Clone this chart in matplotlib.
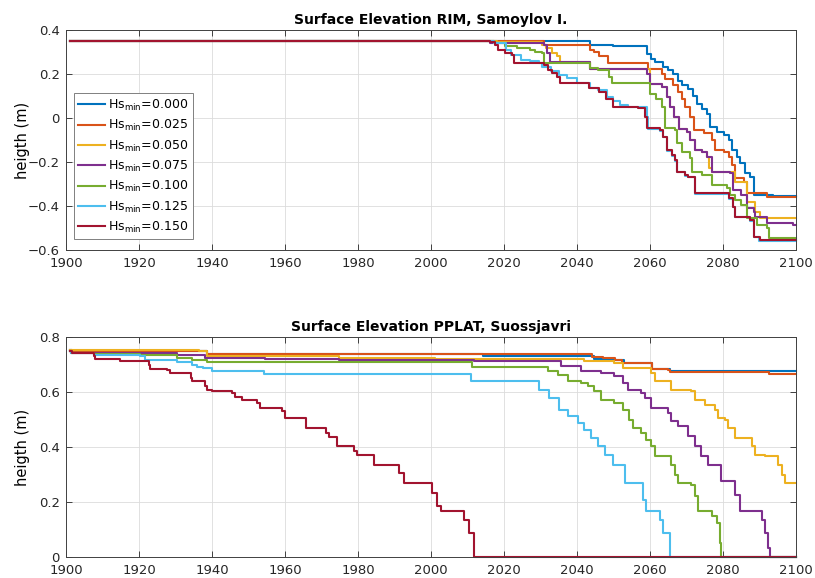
import matplotlib
matplotlib.use('Agg')
import matplotlib.pyplot as plt
from matplotlib.ticker import FuncFormatter

# ---- data (breakpoints of stepwise series) ----
hs_labels = ['0.000', '0.025', '0.050', '0.075', '0.100', '0.125', '0.150']
colors = ['#0072BD', '#D95319', '#EDB120', '#7E2F8E', '#77AC30', '#4DBEEE', '#A2142F']

# RIM, Samoylov I.
rim_yr_000 = [1901, 2043.4, 2049.8, 2059.0, 2060.3, 2061.2, 2063.5, 2064.9, 2066.3, 2067.7, 2068.6,
              2070.4, 2071.8, 2072.7, 2074.1, 2075.5, 2076.4, 2078.2, 2080.1, 2081.5, 2082.4, 2083.7,
              2084.7, 2086.0, 2087.4, 2088.3, 2093.5]
rim_h_000 = [0.35, 0.332, 0.326, 0.291, 0.269, 0.253, 0.231, 0.216, 0.201, 0.170, 0.148,
             0.133, 0.102, 0.065, 0.042, 0.019, -0.039, -0.062, -0.077, -0.100, -0.145, -0.176,
             -0.206, -0.252, -0.267, -0.350, -0.356]
rim_yr_025 = [1901, 2031.0, 2043.4, 2044.7, 2046.1, 2048.4, 2059.4, 2063.1, 2064.0, 2066.3, 2067.7,
              2068.6, 2069.5, 2071.0, 2071.9, 2074.6, 2076.9, 2077.8, 2080.1, 2081.5, 2082.4, 2083.3,
              2085.6, 2086.5, 2092.0]
rim_h_025 = [0.35, 0.334, 0.309, 0.299, 0.284, 0.249, 0.223, 0.201, 0.178, 0.148, 0.118,
             0.087, 0.050, 0.006, -0.055, -0.070, -0.100, -0.145, -0.153, -0.176, -0.214, -0.274,
             -0.290, -0.342, -0.361]
rim_yr_050 = [1901, 2018.0, 2030.5, 2031.5, 2033.2, 2034.5, 2035.3, 2043.6, 2059.9, 2063.1, 2064.5,
              2065.4, 2066.4, 2067.8, 2070.0, 2071.0, 2072.3, 2074.2, 2075.6, 2076.0, 2076.9, 2083.3,
              2086.5, 2088.8, 2090.1]
rim_h_050 = [0.35, 0.345, 0.332, 0.320, 0.294, 0.280, 0.253, 0.222, 0.155, 0.140, 0.095,
             0.050, 0.004, -0.050, -0.062, -0.100, -0.145, -0.153, -0.176, -0.229, -0.244, -0.290,
             -0.380, -0.426, -0.456]
rim_yr_075 = [1901, 2016.2, 2030.8, 2031.7, 2032.6, 2043.6, 2059.0, 2059.9, 2063.1, 2064.5, 2065.4,
              2066.4, 2067.8, 2070.0, 2071.0, 2072.3, 2074.2, 2075.6, 2076.9, 2081.9, 2082.8, 2084.8,
              2086.5, 2088.3, 2088.8, 2092.0, 2099.2]
rim_h_075 = [0.35, 0.339, 0.330, 0.294, 0.253, 0.222, 0.200, 0.155, 0.140, 0.095, 0.050,
             0.004, -0.050, -0.062, -0.100, -0.145, -0.153, -0.176, -0.244, -0.252, -0.327, -0.350,
             -0.410, -0.426, -0.449, -0.479, -0.487]
rim_yr_100 = [1901, 2017.1, 2020.3, 2023.5, 2027.1, 2028.5, 2030.3, 2030.8, 2043.6, 2045.8, 2048.6,
              2049.5, 2059.9, 2061.7, 2063.1, 2064.1, 2066.8, 2067.3, 2068.7, 2071.0, 2071.4, 2074.2,
              2076.9, 2081.0, 2081.9, 2083.3, 2084.8, 2086.5, 2089.2, 2092.0, 2092.4]
rim_h_100 = [0.35, 0.339, 0.327, 0.317, 0.309, 0.301, 0.294, 0.249, 0.226, 0.219, 0.188,
             0.158, 0.110, 0.087, 0.050, -0.047, -0.055, -0.115, -0.153, -0.183, -0.244, -0.259,
             -0.305, -0.320, -0.350, -0.373, -0.395, -0.456, -0.486, -0.500, -0.547]
rim_yr_125 = [1901, 2017.1, 2020.5, 2021.8, 2024.5, 2027.0, 2029.5, 2030.5, 2032.8, 2035.0, 2037.3,
              2039.9, 2043.6, 2045.8, 2048.1, 2049.9, 2051.8, 2054.0, 2059.0, 2059.3, 2062.7, 2063.6,
              2064.6, 2065.9, 2066.8, 2067.3, 2069.6, 2070.4, 2072.3, 2081.5, 2082.8, 2083.3, 2087.4,
              2088.3, 2089.8]
rim_h_125 = [0.35, 0.342, 0.309, 0.286, 0.264, 0.257, 0.249, 0.233, 0.215, 0.194, 0.180,
             0.158, 0.135, 0.125, 0.097, 0.075, 0.059, 0.050, 0.004, -0.050, -0.058, -0.088,
             -0.148, -0.171, -0.194, -0.247, -0.262, -0.270, -0.345, -0.368, -0.406, -0.452, -0.467,
             -0.542, -0.558]
rim_yr_150 = [1901, 2016.2, 2017.5, 2018.4, 2020.3, 2022.1, 2022.6, 2030.8, 2032.1, 2033.0, 2034.4,
              2035.3, 2043.1, 2046.1, 2048.0, 2049.8, 2056.7, 2058.6, 2059.1, 2062.7, 2063.6, 2064.6,
              2065.9, 2066.8, 2067.3, 2069.6, 2070.4, 2072.3, 2081.5, 2082.8, 2083.3, 2087.4, 2088.3,
              2090.1]
rim_h_150 = [0.35, 0.345, 0.332, 0.309, 0.294, 0.286, 0.249, 0.241, 0.219, 0.203, 0.188,
             0.158, 0.135, 0.120, 0.087, 0.050, 0.047, 0.004, -0.047, -0.055, -0.085, -0.145,
             -0.168, -0.191, -0.244, -0.259, -0.267, -0.342, -0.365, -0.403, -0.449, -0.464, -0.539,
             -0.555]

# PPLAT, Suossjavri
pp_yr_000 = [1901, 1901.6, 1938.5, 2014.3, 2044.5, 2050.4, 2052.7, 2060.5, 2065.5]
pp_h_000 = [0.752, 0.748, 0.737, 0.730, 0.720, 0.715, 0.705, 0.685, 0.676]
pp_yr_025 = [1901, 1901.6, 1938.5, 2044.0, 2047.2, 2050.4, 2052.2, 2060.5, 2065.0, 2065.5, 2092.4]
pp_h_025 = [0.752, 0.748, 0.737, 0.727, 0.722, 0.716, 0.707, 0.685, 0.680, 0.673, 0.667]
pp_yr_050 = [1901, 1936.3, 1938.6, 1974.7, 2001.0, 2042.0, 2050.2, 2052.5, 2060.3, 2061.2, 2065.8,
             2071.3, 2072.2, 2074.9, 2077.7, 2078.6, 2080.4, 2081.4, 2083.2, 2087.8, 2088.7, 2091.4,
             2095.1, 2096.0, 2096.9]
pp_h_050 = [0.754, 0.748, 0.730, 0.724, 0.720, 0.712, 0.705, 0.687, 0.669, 0.639, 0.608,
            0.602, 0.572, 0.554, 0.536, 0.505, 0.499, 0.469, 0.433, 0.402, 0.372, 0.366,
            0.336, 0.299, 0.269]
pp_yr_075 = [1901, 1901.4, 1930.4, 1938.2, 1954.6, 1974.7, 2011.8, 2035.6, 2041.1, 2046.6, 2050.2,
             2052.5, 2053.9, 2057.5, 2058.5, 2060.3, 2064.9, 2065.8, 2067.6, 2070.4, 2072.2, 2074.0,
             2075.9, 2079.5, 2083.2, 2084.6, 2090.5, 2091.4, 2092.3, 2092.8]
pp_h_075 = [0.750, 0.742, 0.736, 0.724, 0.720, 0.718, 0.712, 0.693, 0.675, 0.669, 0.657,
            0.633, 0.608, 0.596, 0.578, 0.542, 0.524, 0.493, 0.475, 0.439, 0.402, 0.366,
            0.336, 0.275, 0.227, 0.166, 0.136, 0.087, 0.033, 0.0]
pp_yr_100 = [1901, 1901.4, 1907.6, 1920.3, 1930.3, 1934.4, 1936.7, 1938.5, 2011.3, 2031.9, 2034.7,
             2037.4, 2041.1, 2042.9, 2044.7, 2046.6, 2050.2, 2052.5, 2054.3, 2055.3, 2057.5, 2058.9,
             2060.3, 2061.2, 2065.8, 2066.7, 2067.6, 2071.3, 2072.2, 2073.1, 2076.8, 2078.2, 2079.1,
             2079.5]
pp_h_100 = [0.750, 0.741, 0.737, 0.733, 0.725, 0.718, 0.716, 0.709, 0.691, 0.675, 0.663,
            0.639, 0.633, 0.621, 0.602, 0.572, 0.560, 0.536, 0.499, 0.469, 0.451, 0.427,
            0.402, 0.366, 0.336, 0.299, 0.269, 0.263, 0.221, 0.166, 0.148, 0.124, 0.051,
            0.0]
pp_yr_125 = [1901, 1901.4, 1907.6, 1920.3, 1921.6, 1930.3, 1934.4, 1935.8, 1937.6, 1939.9, 1954.1,
             2010.8, 2029.6, 2032.4, 2035.1, 2037.4, 2040.1, 2042.0, 2043.8, 2045.6, 2047.5, 2049.8,
             2053.0, 2058.0, 2058.9, 2062.6, 2063.5, 2065.3]
pp_h_125 = [0.750, 0.741, 0.733, 0.730, 0.718, 0.710, 0.698, 0.692, 0.686, 0.677, 0.667,
            0.639, 0.608, 0.578, 0.536, 0.512, 0.487, 0.463, 0.433, 0.402, 0.372, 0.336,
            0.269, 0.208, 0.166, 0.136, 0.087, 0.0]
pp_yr_150 = [1901, 1901.6, 1907.6, 1908.0, 1914.9, 1922.6, 1923.1, 1927.7, 1928.6, 1934.1, 1934.5,
             1938.2, 1938.6, 1940.0, 1945.5, 1946.4, 1948.2, 1952.3, 1953.2, 1959.2, 1960.1, 1965.6,
             1971.1, 1972.0, 1974.2, 1978.8, 1979.7, 1984.3, 1991.1, 1992.5, 2000.3, 2001.6, 2002.6,
             2009.0, 2010.4, 2011.8]
pp_h_150 = [0.750, 0.742, 0.730, 0.720, 0.712, 0.697, 0.685, 0.681, 0.669, 0.651, 0.639,
            0.621, 0.608, 0.602, 0.596, 0.582, 0.572, 0.560, 0.542, 0.530, 0.505, 0.469,
            0.451, 0.436, 0.402, 0.384, 0.370, 0.336, 0.306, 0.269, 0.233, 0.184, 0.166,
            0.136, 0.087, 0.0]

rim_series = [(rim_yr_000, rim_h_000), (rim_yr_025, rim_h_025), (rim_yr_050, rim_h_050),
              (rim_yr_075, rim_h_075), (rim_yr_100, rim_h_100), (rim_yr_125, rim_h_125),
              (rim_yr_150, rim_h_150)]
pp_series = [(pp_yr_000, pp_h_000), (pp_yr_025, pp_h_025), (pp_yr_050, pp_h_050),
             (pp_yr_075, pp_h_075), (pp_yr_100, pp_h_100), (pp_yr_125, pp_h_125),
             (pp_yr_150, pp_h_150)]

x_ticks = list(range(1900, 2101, 20))
rim_yticks = [-0.6, -0.4, -0.2, 0, 0.2, 0.4]
pp_yticks = [0, 0.2, 0.4, 0.6, 0.8]


def fmt(v, pos):
    s = '%g' % round(v, 2)
    return s.replace('-', '\u2212')


def style_axes(ax, title, yticks):
    ax.set_xlim(1900, 2100)
    ax.set_ylim(yticks[0], yticks[-1])
    ax.set_xticks(x_ticks)
    ax.set_yticks(yticks)
    ax.yaxis.set_major_formatter(FuncFormatter(fmt))
    ax.grid(True, color='#dcdcdc', linewidth=0.6)
    ax.set_axisbelow(True)
    ax.tick_params(direction='in', length=4, width=0.6, top=True, right=True,
                   labelsize=9.5, colors='#262626')
    ax.tick_params(axis='x', pad=5)
    ax.tick_params(axis='y', pad=4.5)
    for sp in ax.spines.values():
        sp.set_color('#404040')
        sp.set_linewidth(0.7)
    ax.set_title(title, fontsize=10, fontweight='bold', pad=4)
    ax.set_ylabel('heigth (m)', fontsize=10.5)
    # same label position in both panels
    ax.yaxis.set_label_coords(-0.050, 0.5)


def draw(ax, series):
    for (yr, h), c, lab in zip(series, colors, hs_labels):
        # extend the last level to the end of the axis
        xs = list(yr) + [2100]
        ys = list(h) + [h[-1]]
        ax.step(xs, ys, where='post', color=c, linewidth=1.5,
                label=r'Hs$_{\rm min}$=' + lab, clip_on=False)


plt.rcParams['font.family'] = ['DejaVu Sans']
plt.rcParams['mathtext.fontset'] = 'dejavusans'

fig = plt.figure(figsize=(8.15, 5.78), dpi=100, facecolor='white')
ax1 = fig.add_axes([0.081, 0.5675, 0.896, 0.3806])
ax2 = fig.add_axes([0.081, 0.0363, 0.896, 0.3806])

draw(ax1, rim_series)
style_axes(ax1, 'Surface Elevation RIM, Samoylov I.', rim_yticks)

draw(ax2, pp_series)
style_axes(ax2, 'Surface Elevation PPLAT, Suossjavri', pp_yticks)

leg = ax1.legend(loc='upper left', bbox_to_anchor=(0.011, 0.712), fontsize=9,
                 handlelength=2.1, handletextpad=0.3, labelspacing=0.42,
                 borderpad=0.35, borderaxespad=0, fancybox=False, framealpha=1)
leg.get_frame().set_edgecolor('#808080')
leg.get_frame().set_linewidth(0.7)

fig.savefig('out.png', dpi=100, facecolor='white')
